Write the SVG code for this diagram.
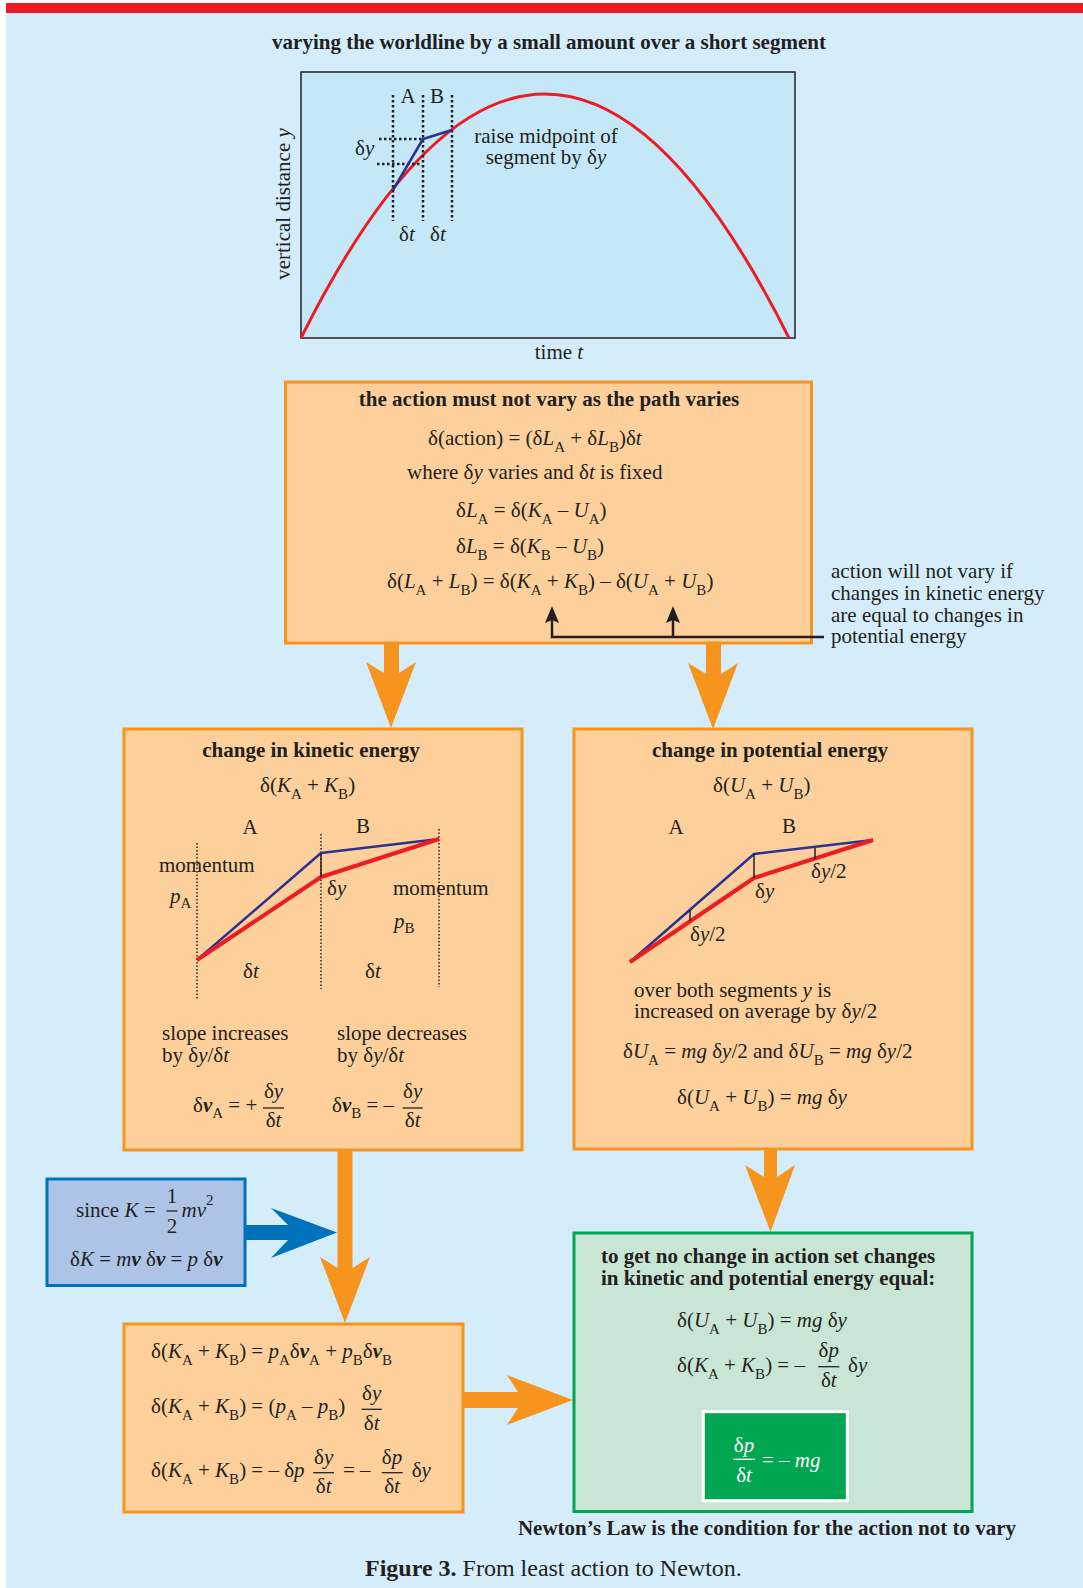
<svg xmlns="http://www.w3.org/2000/svg" width="1083" height="1588" viewBox="0 0 1083 1588">
<defs>
<style>
.t{font-family:"Liberation Serif","Times New Roman",serif;font-size:21px;fill:#231f20}
.b{font-weight:bold}
.i{font-style:italic}
.bi{font-style:italic;font-weight:bold}
.s{font-size:15px}
.c{text-anchor:middle}
.w{fill:#ffffff}
.cap{font-size:24px}
.box{fill:#fdd09b;stroke:#f7941d;stroke-width:3}
.dot{stroke:#231f20;stroke-width:1.5;stroke-dasharray:1.5 2;fill:none}
.dot2{stroke:#231f20;stroke-width:2.5;stroke-dasharray:2.5 2.5;fill:none}
.red{stroke:#ed1c24;stroke-width:4;fill:none;stroke-linejoin:round}
.blu{stroke:#2e3192;stroke-width:2.5;fill:none;stroke-linejoin:round}
.tick{stroke:#231f20;stroke-width:1.5}
.bar{stroke:#231f20;stroke-width:1.3}
.orange{fill:#f7941d}
</style>
</defs>
<rect x="0" y="0" width="1083" height="1588" fill="#ffffff"/>
<rect x="6" y="3" width="1077" height="1585" fill="#d5edfa"/>
<rect x="6" y="3" width="1077" height="10" fill="#ed1c24"/>

<text class="t b c" x="549" y="49">varying the worldline by a small amount over a short segment</text>

<g id="plot">
<rect x="301" y="72" width="494" height="266" fill="#c4e8f8" stroke="#231f20" stroke-width="1.5"/>
<path d="M301,338 Q545,-150 789,338" stroke="#ed1c24" stroke-width="3" fill="none"/>
<line class="dot2" x1="393" y1="95" x2="393" y2="221"/>
<line class="dot2" x1="423" y1="95" x2="423" y2="221"/>
<line class="dot2" x1="452" y1="95" x2="452" y2="221"/>
<line class="dot2" x1="379" y1="139" x2="423" y2="139"/>
<line class="dot2" x1="377" y1="164" x2="422" y2="164"/>
<polyline class="blu" points="393,190 423,139 452,130"/>
<text class="t c" x="408" y="103">A</text>
<text class="t c" x="437" y="103">B</text>
<text class="t" x="355" y="155">δ<tspan class="i">y</tspan></text>
<text class="t" x="399" y="241">δ<tspan class="i">t</tspan></text>
<text class="t" x="430" y="241">δ<tspan class="i">t</tspan></text>
<text class="t c" x="546" y="143">raise midpoint of</text>
<text class="t c" x="546" y="164">segment by δ<tspan class="i">y</tspan></text>
<text class="t c" transform="translate(290,204) rotate(-90)">vertical distance <tspan class="i">y</tspan></text>
<text class="t c" x="559" y="359">time <tspan class="i">t</tspan></text>
</g>

<g id="action">
<rect class="box" x="285.5" y="382" width="526" height="261"/>
<text class="t b c" x="549" y="406">the action must not vary as the path varies</text>
<text class="t" x="428" y="445">δ(action) = (δ<tspan class="i">L</tspan><tspan class="s" dy="7">A</tspan><tspan dy="-7"> + δ</tspan><tspan class="i">L</tspan><tspan class="s" dy="7">B</tspan><tspan dy="-7">)δ</tspan><tspan class="i">t</tspan></text>
<text class="t" x="407" y="479">where δ<tspan class="i">y</tspan> varies and δ<tspan class="i">t</tspan> is fixed</text>
<text class="t" x="456" y="517">δ<tspan class="i">L</tspan><tspan class="s" dy="7">A</tspan><tspan dy="-7"> = δ(</tspan><tspan class="i">K</tspan><tspan class="s" dy="7">A</tspan><tspan dy="-7"> – </tspan><tspan class="i">U</tspan><tspan class="s" dy="7">A</tspan><tspan dy="-7">)</tspan></text>
<text class="t" x="456" y="553">δ<tspan class="i">L</tspan><tspan class="s" dy="7">B</tspan><tspan dy="-7"> = δ(</tspan><tspan class="i">K</tspan><tspan class="s" dy="7">B</tspan><tspan dy="-7"> – </tspan><tspan class="i">U</tspan><tspan class="s" dy="7">B</tspan><tspan dy="-7">)</tspan></text>
<text class="t" x="387" y="588">δ(<tspan class="i">L</tspan><tspan class="s" dy="7">A</tspan><tspan dy="-7"> + </tspan><tspan class="i">L</tspan><tspan class="s" dy="7">B</tspan><tspan dy="-7">) = δ(</tspan><tspan class="i">K</tspan><tspan class="s" dy="7">A</tspan><tspan dy="-7"> + </tspan><tspan class="i">K</tspan><tspan class="s" dy="7">B</tspan><tspan dy="-7">) – δ(</tspan><tspan class="i">U</tspan><tspan class="s" dy="7">A</tspan><tspan dy="-7"> + </tspan><tspan class="i">U</tspan><tspan class="s" dy="7">B</tspan><tspan dy="-7">)</tspan></text>
</g>

<g id="note">
<text class="t" x="831" y="578">action will not vary if</text>
<text class="t" x="831" y="600">changes in kinetic energy</text>
<text class="t" x="831" y="622">are equal to changes in</text>
<text class="t" x="831" y="643">potential energy</text>
</g>

<g id="kinetic">
<rect class="box" x="124" y="729" width="398" height="421"/>
<text class="t b c" x="311" y="757">change in kinetic energy</text>
<text class="t" x="260" y="792">δ(<tspan class="i">K</tspan><tspan class="s" dy="7">A</tspan><tspan dy="-7"> + </tspan><tspan class="i">K</tspan><tspan class="s" dy="7">B</tspan><tspan dy="-7">)</tspan></text>
<text class="t c" x="250" y="834">A</text>
<text class="t c" x="363" y="833">B</text>
<text class="t" x="159" y="872">momentum</text>
<text class="t i" x="170" y="903">p<tspan class="s" font-style="normal" dy="5">A</tspan></text>
<text class="t" x="327" y="895">δ<tspan class="i">y</tspan></text>
<text class="t" x="393" y="895">momentum</text>
<text class="t i" x="394" y="928">p<tspan class="s" font-style="normal" dy="5">B</tspan></text>
<line class="dot" x1="197" y1="843" x2="197" y2="999"/>
<line class="dot" x1="321" y1="834" x2="321" y2="989"/>
<line class="dot" x1="439" y1="829" x2="439" y2="987"/>
<polyline class="blu" points="197,960 321,853 439,839"/>
<polyline class="red" points="197,960 321,877 439,839"/>
<line class="tick" x1="321" y1="853" x2="321" y2="877"/>
<text class="t" x="243" y="978">δ<tspan class="i">t</tspan></text>
<text class="t" x="365" y="978">δ<tspan class="i">t</tspan></text>
<text class="t" x="162" y="1040">slope increases</text>
<text class="t" x="162" y="1062">by δ<tspan class="i">y</tspan>/δ<tspan class="i">t</tspan></text>
<text class="t" x="337" y="1040">slope decreases</text>
<text class="t" x="337" y="1062">by δ<tspan class="i">y</tspan>/δ<tspan class="i">t</tspan></text>
<text class="t" x="193" y="1112">δ<tspan class="bi">v</tspan><tspan class="s" dy="6">A</tspan><tspan dy="-6"> = +</tspan></text>
<text class="t c" x="273.5" y="1098">δ<tspan class="i">y</tspan></text>
<line class="bar" x1="263" y1="1108" x2="284" y2="1108"/>
<text class="t c" x="273.5" y="1127">δ<tspan class="i">t</tspan></text>
<text class="t" x="332" y="1112">δ<tspan class="bi">v</tspan><tspan class="s" dy="6">B</tspan><tspan dy="-6"> = –</tspan></text>
<text class="t c" x="412.7" y="1098">δ<tspan class="i">y</tspan></text>
<line class="bar" x1="402.7" y1="1108" x2="422.7" y2="1108"/>
<text class="t c" x="412.7" y="1127">δ<tspan class="i">t</tspan></text>
</g>

<g id="potential">
<rect class="box" x="574" y="729" width="398" height="420"/>
<text class="t b c" x="770" y="757">change in potential energy</text>
<text class="t" x="713" y="792">δ(<tspan class="i">U</tspan><tspan class="s" dy="7">A</tspan><tspan dy="-7"> + </tspan><tspan class="i">U</tspan><tspan class="s" dy="7">B</tspan><tspan dy="-7">)</tspan></text>
<text class="t c" x="676" y="834">A</text>
<text class="t c" x="789" y="833">B</text>
<polyline class="blu" points="630,962 754,854 873,840"/>
<polyline class="red" points="630,962 754,878 873,840"/>
<line class="tick" x1="754" y1="854" x2="754" y2="878"/>
<line class="tick" x1="690" y1="910" x2="690" y2="921"/>
<line class="tick" x1="815" y1="848" x2="815" y2="859"/>
<text class="t" x="690" y="941">δ<tspan class="i">y</tspan>/2</text>
<text class="t" x="755" y="898">δ<tspan class="i">y</tspan></text>
<text class="t" x="811" y="878">δ<tspan class="i">y</tspan>/2</text>
<text class="t" x="634" y="997">over both segments <tspan class="i">y</tspan> is</text>
<text class="t" x="634" y="1018">increased on average by δ<tspan class="i">y</tspan>/2</text>
<text class="t" x="623" y="1058">δ<tspan class="i">U</tspan><tspan class="s" dy="7">A</tspan><tspan dy="-7"> = </tspan><tspan class="i">mg</tspan> δ<tspan class="i">y</tspan>/2 and δ<tspan class="i">U</tspan><tspan class="s" dy="7">B</tspan><tspan dy="-7"> = </tspan><tspan class="i">mg</tspan> δ<tspan class="i">y</tspan>/2</text>
<text class="t" x="677" y="1104">δ(<tspan class="i">U</tspan><tspan class="s" dy="7">A</tspan><tspan dy="-7"> + </tspan><tspan class="i">U</tspan><tspan class="s" dy="7">B</tspan><tspan dy="-7">) = </tspan><tspan class="i">mg</tspan> δ<tspan class="i">y</tspan></text>
</g>

<g id="connectors">
<path d="M552,619 V637 H824 M673,619 V637" stroke="#231f20" stroke-width="2.5" fill="none"/>
<polygon points="552,606 559,623 552,620 545,623" fill="#231f20"/>
<polygon points="673,606 680,623 673,620 666,623" fill="#231f20"/>
<polygon class="orange" points="384,643 399,643 399,673 416,662 391,728 366,662 384,673"/>
<polygon class="orange" points="706,643 721,643 721,674 738,663 713,729 688,663 706,674"/>
<polygon class="orange" points="337.5,1150 352.5,1150 352.5,1268 370,1257 345,1323 320,1257 337.5,1268"/>
<polygon class="orange" points="463,1392 518,1392 507,1375 573,1400 507,1425 518,1408 463,1408"/>
<polygon class="orange" points="764,1149 777,1149 777,1177 795,1165 770.5,1232 745,1165 764,1177"/>
<polygon fill="#0072bc" points="245,1225 288,1225 271,1208 337,1232.5 271,1258 288,1240 245,1240"/>
</g>

<g id="since">
<rect x="47" y="1179" width="198" height="106.5" fill="#adc4e6" stroke="#0072bc" stroke-width="3"/>
<text class="t" x="76" y="1217">since <tspan class="i">K</tspan> =</text>
<text class="t c" x="172" y="1203">1</text>
<line class="bar" x1="166.5" y1="1211" x2="177.5" y2="1211"/>
<text class="t c" x="172" y="1233">2</text>
<text class="t i" x="181.5" y="1217">mv</text>
<text class="t s" x="206" y="1205">2</text>
<text class="t" x="70" y="1266">δ<tspan class="i">K</tspan> = <tspan class="i">m</tspan><tspan class="bi">v</tspan> δ<tspan class="bi">v</tspan> = <tspan class="i">p</tspan> δ<tspan class="bi">v</tspan></text>
</g>

<g id="sum">
<rect class="box" x="124" y="1324" width="339" height="188"/>
<text class="t" x="151" y="1358">δ(<tspan class="i">K</tspan><tspan class="s" dy="7">A</tspan><tspan dy="-7"> + </tspan><tspan class="i">K</tspan><tspan class="s" dy="7">B</tspan><tspan dy="-7">) = </tspan><tspan class="i">p</tspan><tspan class="s" dy="7">A</tspan><tspan dy="-7">δ</tspan><tspan class="bi">v</tspan><tspan class="s" dy="7">A</tspan><tspan dy="-7"> + </tspan><tspan class="i">p</tspan><tspan class="s" dy="7">B</tspan><tspan dy="-7">δ</tspan><tspan class="bi">v</tspan><tspan class="s" dy="7">B</tspan></text>
<text class="t" x="151" y="1413">δ(<tspan class="i">K</tspan><tspan class="s" dy="7">A</tspan><tspan dy="-7"> + </tspan><tspan class="i">K</tspan><tspan class="s" dy="7">B</tspan><tspan dy="-7">) = (</tspan><tspan class="i">p</tspan><tspan class="s" dy="7">A</tspan><tspan dy="-7"> – </tspan><tspan class="i">p</tspan><tspan class="s" dy="7">B</tspan><tspan dy="-7">)</tspan></text>
<text class="t c" x="371.7" y="1400">δ<tspan class="i">y</tspan></text>
<line class="bar" x1="361.7" y1="1409.3" x2="381.7" y2="1409.3"/>
<text class="t c" x="371.7" y="1430">δ<tspan class="i">t</tspan></text>
<text class="t" x="151" y="1477">δ(<tspan class="i">K</tspan><tspan class="s" dy="7">A</tspan><tspan dy="-7"> + </tspan><tspan class="i">K</tspan><tspan class="s" dy="7">B</tspan><tspan dy="-7">) = – δ</tspan><tspan class="i">p</tspan></text>
<text class="t c" x="323.7" y="1464">δ<tspan class="i">y</tspan></text>
<line class="bar" x1="313.3" y1="1472.7" x2="334" y2="1472.7"/>
<text class="t c" x="323.7" y="1493">δ<tspan class="i">t</tspan></text>
<text class="t" x="343" y="1477">= –</text>
<text class="t c" x="392" y="1464">δ<tspan class="i">p</tspan></text>
<line class="bar" x1="381.7" y1="1472.7" x2="402.7" y2="1472.7"/>
<text class="t c" x="392" y="1493">δ<tspan class="i">t</tspan></text>
<text class="t" x="411.7" y="1477">δ<tspan class="i">y</tspan></text>
</g>

<g id="result">
<rect x="574" y="1233" width="398" height="278.5" fill="#c9e6d4" stroke="#00a651" stroke-width="3"/>
<text class="t b" x="601" y="1263">to get no change in action set changes</text>
<text class="t b" x="601" y="1285">in kinetic and potential energy equal:</text>
<text class="t" x="677" y="1327">δ(<tspan class="i">U</tspan><tspan class="s" dy="7">A</tspan><tspan dy="-7"> + </tspan><tspan class="i">U</tspan><tspan class="s" dy="7">B</tspan><tspan dy="-7">) = </tspan><tspan class="i">mg</tspan> δ<tspan class="i">y</tspan></text>
<text class="t" x="677" y="1372">δ(<tspan class="i">K</tspan><tspan class="s" dy="7">A</tspan><tspan dy="-7"> + </tspan><tspan class="i">K</tspan><tspan class="s" dy="7">B</tspan><tspan dy="-7">) = –</tspan></text>
<text class="t c" x="828.8" y="1357">δ<tspan class="i">p</tspan></text>
<line class="bar" x1="818.3" y1="1366.7" x2="839.3" y2="1366.7"/>
<text class="t c" x="828.8" y="1387">δ<tspan class="i">t</tspan></text>
<text class="t" x="848" y="1372">δ<tspan class="i">y</tspan></text>
<rect x="703.3" y="1411.7" width="144" height="89" fill="#00a651" stroke="#ffffff" stroke-width="3"/>
<text class="t c w" x="744" y="1452">δ<tspan class="i">p</tspan></text>
<line x1="733.3" y1="1459.3" x2="755" y2="1459.3" stroke="#ffffff" stroke-width="1.3"/>
<text class="t c w" x="744" y="1482">δ<tspan class="i">t</tspan></text>
<text class="t w" x="762" y="1467">= – <tspan class="i">mg</tspan></text>
</g>

<text class="t b c" x="767" y="1535">Newton’s Law is the condition for the action not to vary</text>
<text class="t cap" x="365" y="1576"><tspan class="b">Figure 3.</tspan> From least action to Newton.</text>
</svg>
